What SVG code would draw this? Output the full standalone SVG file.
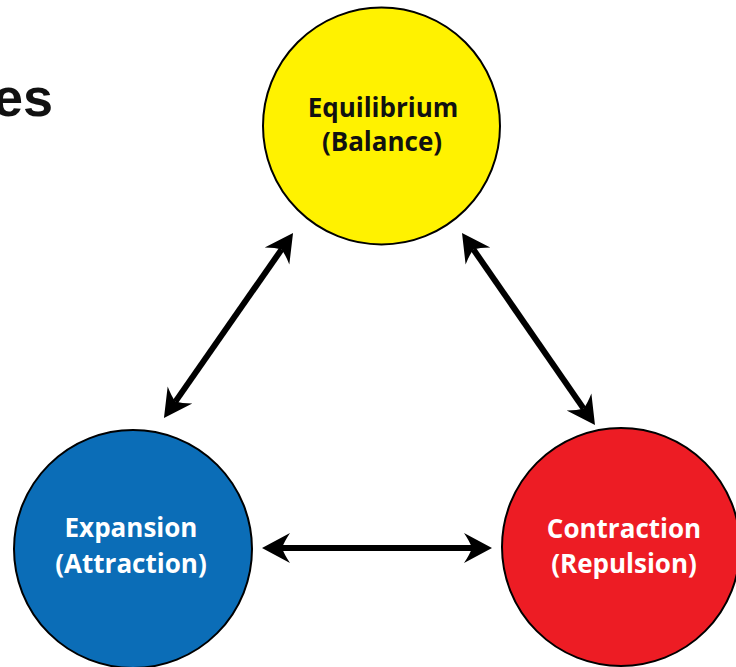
<svg xmlns="http://www.w3.org/2000/svg" width="736" height="667" viewBox="0 0 736 667">
<style>
.node{stroke:#000;stroke-width:2}
.lbl{font-family:"Open Sans","Liberation Sans",sans-serif;font-weight:bold;font-size:26px;text-anchor:middle}
.conn{stroke:#000;stroke-width:6;fill:none}
</style>
<defs>
<marker id="ah" markerUnits="userSpaceOnUse" orient="auto-start-reverse" refX="0" refY="0" markerWidth="40" markerHeight="40" viewBox="-10 -20 40 40" overflow="visible">
<path d="M20,0 L-8,-15 Q-2,-6 0,0 Q-2,6 -8,15 Z" fill="#000"/>
</marker>
</defs>
<rect width="736" height="667" fill="#fff"/>
<text x="53" y="116" font-family="'Liberation Sans',Arial,sans-serif" font-weight="bold" font-size="54" text-anchor="end" fill="#111">es</text>
<g id="equilibrium">
<circle class="node" cx="381.5" cy="126" r="118.5" fill="#FFF200"/>
<text class="lbl" x="383" y="117" fill="#111">Equilibrium</text>
<text class="lbl" x="382" y="151" fill="#111">(Balance)</text>
</g>
<g id="expansion">
<circle class="node" cx="133" cy="549" r="119" fill="#0B6DB7"/>
<text class="lbl" x="131" y="537" fill="#fff">Expansion</text>
<text class="lbl" x="131" y="573" fill="#fff">(Attraction)</text>
</g>
<g id="contraction">
<circle class="node" cx="621" cy="547" r="119" fill="#ED1C24"/>
<text class="lbl" x="624" y="538" fill="#fff">Contraction</text>
<text class="lbl" x="624" y="573" fill="#fff">(Repulsion)</text>
</g>
<g id="connectors">
<line class="conn" x1="281.6" y1="249.4" x2="175.4" y2="401.6" marker-start="url(#ah)" marker-end="url(#ah)"/>
<line class="conn" x1="473.4" y1="249.4" x2="583.6" y2="408.6" marker-start="url(#ah)" marker-end="url(#ah)"/>
<line class="conn" x1="282" y1="548" x2="472" y2="548" marker-start="url(#ah)" marker-end="url(#ah)"/>
</g>
</svg>
